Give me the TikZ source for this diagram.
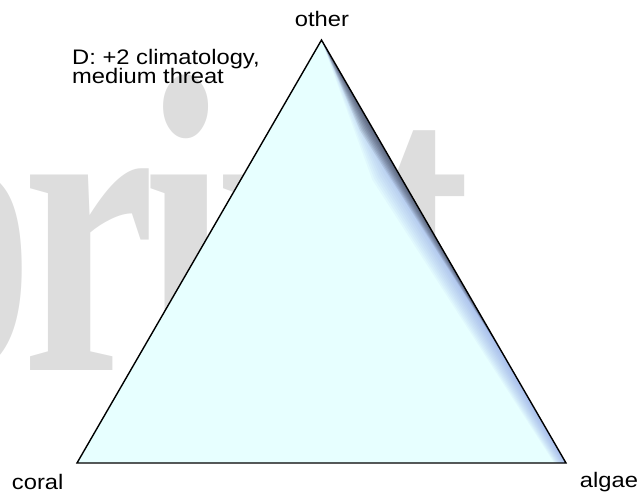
\documentclass[tikz,border=0pt]{standalone}
\usepackage{fontspec}
\usepackage{graphicx}
\setmainfont{Liberation Sans}
\newfontfamily\markfont[LetterSpace=-4]{Liberation Serif}
\usepackage{tikz}
\usetikzlibrary{calc}

\definecolor{triFill}{RGB}{231,255,255}
\definecolor{meshBlue}{RGB}{120,140,225}
\definecolor{meshDark}{RGB}{35,35,40}
\definecolor{markGray}{RGB}{221,221,221}

\tikzset{
    vertexlabel/.style={inner sep=0pt, anchor=base, font=\fontsize{21}{21}\selectfont},
    panelnote/.style={inner sep=0pt, anchor=base west, font=\fontsize{21}{21}\selectfont}
}

\begin{document}
\begin{tikzpicture}[x=1pt,y=1pt]
    \useasboundingbox (0,0) rectangle (641,-495);

    % Watermark
    \begin{scope}
        \clip (0,0) rectangle (641,-495);
        \node[inner sep=0pt, anchor=base east, text=markGray,
              font=\markfont\bfseries\fontsize{300}{300}\selectfont]
              (mark) at (470,-370) {\scalebox{1}[1.42]{Preprint}};
    \end{scope}

    % Simplex corners
    \coordinate (vCoral) at (77,-463);
    \coordinate (vAlgae) at (566,-463);
    \coordinate (vOther) at (321.5,-40);

    % Filled simplex
    \fill[triFill] (vCoral) -- (vAlgae) -- (vOther) -- cycle;

    % Dense mesh along the algae-other edge
    \foreach \k in {1,...,12} {
        \pgfmathsetmacro{\w}{26*\k/12}
        \pgfmathsetmacro{\b}{0.024*\k/12}
        \fill[meshBlue, fill opacity=0.06]
            (vAlgae) -- (vOther) -- ($(vOther)!0.3!(vAlgae)+(-0.865*\w,-0.5*\w)$)
            -- ($(vAlgae)!\b!(vCoral)$) -- cycle;
    }
    \foreach \k in {1,...,8} {
        \pgfmathsetmacro{\w}{12*\k/8}
        \fill[meshDark, fill opacity=0.09]
            (vOther) -- ($(vOther)!0.75!(vAlgae)$)
            -- ($(vOther)!0.2!(vAlgae)+(-0.865*\w,-0.5*\w)$) -- cycle;
    }

    % Outline
    \draw[line width=1.4pt, line join=miter] (vCoral) -- (vAlgae) -- (vOther) -- cycle;

    % Vertex labels
    \node[vertexlabel] (lblOther) at (322,-26.7) {\scalebox{1.13}[1]{other}};
    \node[vertexlabel] (lblCoral) at (37.7,-489) {\scalebox{1.13}[1]{coral}};
    \node[vertexlabel] (lblAlgae) at (609,-487) {\scalebox{1.13}[1]{algae}};

    % Panel note
    \node[panelnote] (note1) at (72,-65) {\scalebox{1.13}[1]{D: +2 climatology,}};
    \node[panelnote] (note2) at (72,-84) {\scalebox{1.13}[1]{medium threat}};
\end{tikzpicture}
\end{document}
